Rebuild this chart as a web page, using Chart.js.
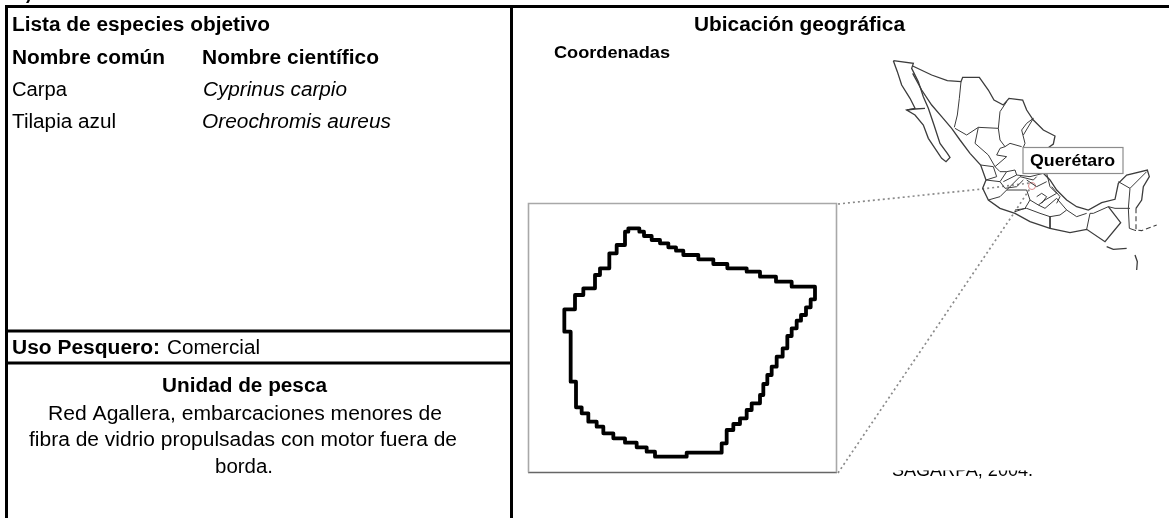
<!DOCTYPE html>
<html>
<head>
<meta charset="utf-8">
<style>
  html, body { margin: 0; padding: 0; background: #fff; overflow: hidden; }
  canvas { display: block; }
</style>
<script src="https://cdn.jsdelivr.net/npm/chart.js@4"></script>
</head>
<body>
<canvas id="chart" width="1169" height="518"></canvas>
<script>
// sheet rules (units = picture pixels)
const ruleTop = [[5, 6.5], [1169, 6.5]];
const ruleLeft = [[6.5, 5], [6.5, 518]];
const ruleMiddle = [[511.5, 5], [511.5, 518]];
const ruleUso = [[5, 331], [513, 331]];
const ruleUnidad = [[5, 363], [513, 363]];

// inset frame and the dotted leaders going to the map
const insetFrame = [[528.5, 472.5], [528.5, 203.5], [836.5, 203.5], [836.5, 472.5]];
const insetBottom = [[528, 472.5], [837, 472.5]];
const leaderUpper = [[838, 204], [982, 189], [1030, 183]];
const leaderLower = [[838, 473], [1014, 213], [1031, 187]];

// lake outline, in 3x crop units
const lakeOutline = [
  [345, 85], [358, 85], [358, 95], [372, 95], [372, 108], [395, 108], [395, 120], [420, 120], [420, 130], [445, 130],
  [445, 142], [468, 142], [468, 152], [490, 152], [490, 165], [535, 165], [535, 178], [580, 178], [580, 192], [622, 192],
  [622, 205], [680, 205], [680, 215], [720, 215], [720, 230], [768, 230], [768, 245], [815, 245], [815, 260], [885, 260],
  [885, 298], [872, 298], [872, 322], [858, 322], [858, 345], [843, 345], [843, 362], [830, 362], [830, 385], [815, 385],
  [815, 408], [802, 408], [802, 445], [788, 445], [788, 470], [770, 470], [770, 500], [755, 500], [755, 525], [742, 525],
  [742, 552], [730, 552], [730, 585], [720, 585], [720, 610], [695, 610], [695, 630], [680, 630], [680, 655], [660, 655],
  [660, 672], [640, 672], [640, 690], [620, 690], [620, 730], [605, 730], [605, 758], [500, 758], [500, 770], [405, 770],
  [405, 755], [380, 755], [380, 742], [350, 742], [350, 728], [315, 728], [315, 715], [280, 715], [280, 700], [250, 700],
  [250, 680], [230, 680], [230, 665], [205, 665], [205, 640], [185, 640], [185, 622], [168, 622], [168, 545], [152, 545],
  [152, 395], [133, 395], [133, 328], [165, 328], [165, 285], [190, 285], [190, 265], [225, 265], [225, 225], [240, 225],
  [240, 205], [268, 205], [268, 160], [290, 160], [290, 135], [315, 135], [315, 95], [325, 95], [325, 85], [345, 85]
];

// map of Mexico, in 3x crop units
const mapBaja = [[100, 62], [160, 70], [155, 85], [175, 125], [190, 170], [205, 205], [222, 255], [240, 310], [262, 340], [270, 352], [258, 365], [245, 355], [225, 325], [205, 295], [190, 255], [165, 225], [140, 210], [165, 205], [150, 175], [125, 135], [112, 95], [100, 62]];
const mapBajaSplit = [[140, 210], [165, 207], [195, 205]];
const mapNorthGulf = [[158, 78], [215, 105], [262, 122], [303, 125], [308, 112], [358, 112], [385, 150], [402, 180], [430, 195], [447, 175], [488, 180], [500, 210], [520, 240], [550, 270], [585, 288], [580, 312], [555, 330], [550, 400], [570, 420], [590, 450], [620, 480], [650, 500], [685, 510], [725, 488], [765, 478], [775, 430], [800, 405], [862, 390], [868, 410], [850, 440], [845, 480], [828, 505]];
const mapPacific = [[158, 100], [185, 150], [215, 195], [245, 230], [275, 265], [300, 300], [330, 340], [362, 375], [378, 420], [368, 445], [385, 480], [420, 505], [465, 520], [510, 545], [570, 565], [630, 578], [680, 568], [735, 605], [782, 548], [745, 500]];
const mapSouthBorder = [[828, 505], [828, 570], [845, 572], [890, 555]];
const mapFragmentA = [[740, 620], [760, 628], [800, 625]];
const mapFragmentB = [[825, 645], [832, 665], [830, 690]];
const mapStates = [
  [[303, 125], [298, 175], [292, 225], [283, 262]],
  [[285, 265], [320, 285], [355, 262], [415, 265], [420, 300], [435, 320]],
  [[415, 265], [420, 215], [440, 185]],
  [[490, 285], [520, 235], [500, 250], [485, 270], [495, 310], [490, 322]],
  [[435, 320], [450, 310], [485, 320]],
  [[355, 262], [345, 310], [385, 345], [405, 380], [440, 350], [410, 345], [420, 325], [435, 320]],
  [[362, 375], [400, 380], [410, 410], [378, 420]],
  [[378, 420], [420, 425], [440, 395], [465, 390], [470, 405], [430, 425]],
  [[385, 480], [420, 470], [440, 450], [500, 450], [510, 480], [495, 505], [465, 515]],
  [[440, 450], [480, 410], [520, 420], [530, 410]],
  [[500, 420], [530, 440], [560, 425]],
  [[560, 400], [570, 440], [590, 460], [555, 480], [535, 495], [555, 505], [590, 475], [620, 510]],
  [[470, 405], [510, 410], [550, 400]],
  [[465, 510], [500, 505], [540, 520], [570, 530], [570, 565]],
  [[570, 530], [600, 525], [620, 510], [650, 530], [680, 520]],
  [[680, 568], [690, 520], [700, 520], [745, 500], [765, 505], [810, 505]],
  [[775, 425], [810, 445], [860, 395]],
  [[810, 445], [805, 505], [808, 565], [828, 572]],
  [[530, 470], [545, 460], [560, 470], [545, 490]],
  [[420, 425], [435, 445], [470, 440], [490, 420]],
  [[405, 380], [420, 395], [440, 395]],
  [[510, 480], [535, 495]],
  [[575, 440], [600, 470], [590, 490]]
];
const queretaroSpot = [[516, 438]];

const toPoints = pts => pts.map(p => ({ x: p[0], y: p[1] }));

function sheetLine(pts, width) {
  return { data: toPoints(pts), borderColor: '#000', borderWidth: width, pointRadius: 0, showLine: true, xAxisID: 'x', yAxisID: 'y', clip: false };
}
function mapLine(pts, width) {
  return { data: toPoints(pts), borderColor: '#3c3c3c', borderWidth: width || 1, pointRadius: 0, showLine: true, xAxisID: 'xMap', yAxisID: 'yMap', soft: 0.4 };
}
function leaderLine(pts) {
  return { data: toPoints(pts), borderColor: '#8a8a8a', borderWidth: 1.7, borderDash: [2, 3], pointRadius: 0, showLine: true, xAxisID: 'x', yAxisID: 'y' };
}

const datasets = [
  ...[mapBaja, mapBajaSplit, mapNorthGulf, mapPacific, mapFragmentA, mapFragmentB].map(p => mapLine(p, 1.3)),
  ...mapStates.map(p => mapLine(p, 1)),
  { ...mapLine(mapSouthBorder, 1.1), borderDash: [5, 3] },
  { data: toPoints(queretaroSpot), pointRadius: 3.5, pointBackgroundColor: 'rgba(255,255,255,0)', pointBorderColor: '#d98a8a', pointBorderWidth: 1, showLine: false, xAxisID: 'xMap', yAxisID: 'yMap' },
  { data: toPoints(insetFrame), borderColor: '#a8a8a8', borderWidth: 1.6, pointRadius: 0, showLine: true, xAxisID: 'x', yAxisID: 'y' },
  { data: toPoints(insetBottom), borderColor: '#666', borderWidth: 1.4, pointRadius: 0, showLine: true, xAxisID: 'x', yAxisID: 'y' },
  leaderLine(leaderUpper),
  leaderLine(leaderLower),
  { data: toPoints(lakeOutline), borderColor: '#000', borderWidth: 3.8, borderJoinStyle: 'round', pointRadius: 0, showLine: true, xAxisID: 'xLake', yAxisID: 'yLake', soft: 0.7 },
  sheetLine(ruleTop, 3), sheetLine(ruleLeft, 3), sheetLine(ruleMiddle, 3), sheetLine(ruleUso, 3), sheetLine(ruleUnidad, 3)
];

const FONT = '"Liberation Sans", Arial, sans-serif';

// all the sheet text, drawn on top of the marks
const sheetText = {
  id: 'sheetText',
  beforeDatasetDraw(chart, args) {
    const soft = chart.data.datasets[args.index].soft;
    if (soft) chart.ctx.filter = 'blur(' + soft + 'px)';
  },
  afterDatasetDraw(chart) {
    chart.ctx.filter = 'none';
  },
  afterDatasetsDraw(chart) {
    const ctx = chart.ctx;
    // x1/x2 are the ink extents, the text is nudged to fill them
    const put = (text, x1, x2, y, font) => {
      ctx.save();
      ctx.font = font + ' ' + FONT;
      ctx.textAlign = 'left';
      ctx.textBaseline = 'alphabetic';
      ctx.fillStyle = '#000';
      ctx.translate(x1, y);
      ctx.scale((x2 - x1) / ctx.measureText(text).width, 1);
      ctx.fillText(text, 0, 0);
      ctx.restore();
    };
    ctx.save();

    // label box on the map
    ctx.fillStyle = '#fff';
    ctx.strokeStyle = '#8c8c8c';
    ctx.lineWidth = 1.2;
    ctx.fillRect(1023, 147.5, 100, 26);
    ctx.strokeRect(1023, 147.5, 100, 26);
    put('Querétaro', 1030, 1115, 166, 'bold 17px');

    put('Lista de especies objetivo', 12, 270, 31, 'bold 20px');
    put('Nombre común', 12, 165, 64, 'bold 20px');
    put('Nombre científico', 202, 379, 64, 'bold 20px');
    put('Carpa', 12, 67, 96, '20px');
    put('Cyprinus carpio', 203, 347, 96, 'italic 20px');
    put('Tilapia azul', 12, 116, 128, '20px');
    put('Oreochromis aureus', 202, 391, 128, 'italic 20px');

    put('Uso Pesquero:', 12, 160, 354, 'bold 20px');
    put('Comercial', 167, 260, 354, '20px');
    put('Unidad de pesca', 162, 327, 392, 'bold 20px');
    put('Red Agallera, embarcaciones menores de', 48, 442, 420, '20px');
    put('fibra de vidrio propulsadas con motor fuera de', 29, 457, 446, '20px');
    put('borda.', 215, 273, 473, '20px');

    put('Ubicación geográfica', 694, 905, 31, 'bold 20px');
    put('Coordenadas', 554, 670, 58, 'bold 16px');

    // only the tail of a label survives above the top rule
    ctx.save();
    ctx.beginPath();
    ctx.rect(20, 0, 20, 4);
    ctx.clip();
    put(')', 26, 32, -1, 'bold 20px');
    ctx.restore();

    // source note, cut by the inset picture in the reference
    ctx.save();
    ctx.beginPath();
    ctx.rect(880, 470.5, 170, 10);
    ctx.clip();
    put('SAGARPA, 2004.', 892, 1033, 476, '18px');
    ctx.restore();

    ctx.restore();
  }
};

const hidden = (min, max, reverse) => ({ type: 'linear', display: false, min, max, reverse: !!reverse });

new Chart(document.getElementById('chart'), {
  type: 'scatter',
  data: { datasets },
  plugins: [sheetText],
  options: {
    responsive: false,
    animation: false,
    layout: { padding: 0, autoPadding: false },
    plugins: { legend: { display: false }, tooltip: { enabled: false } },
    scales: {
      x: hidden(0, 1169),
      y: hidden(0, 518, true),
      xMap: { ...hidden(-2580, 927), axis: 'x' },
      yMap: { ...hidden(-120, 1434, true), axis: 'y' },
      xLake: { ...hidden(-1560, 1947), axis: 'x' },
      yLake: { ...hidden(-600, 954, true), axis: 'y' }
    }
  }
});
</script>
</body>
</html>
